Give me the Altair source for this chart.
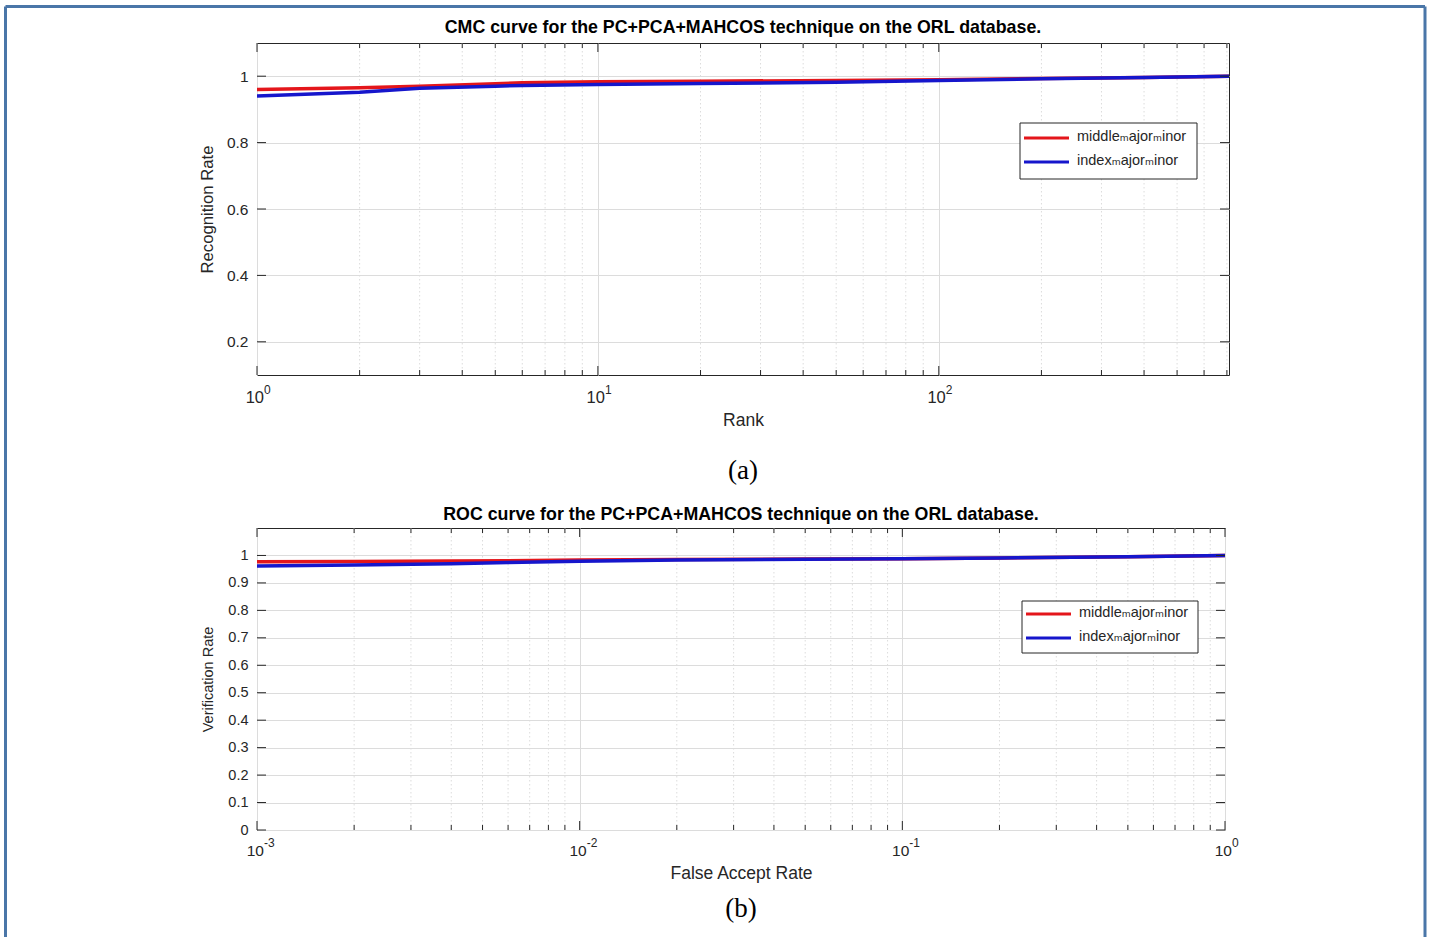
import altair as alt
import pandas as pd

# ---------------- data ----------------
cmc_rank = [1, 2, 3, 5, 6, 10, 20, 50, 100, 200, 400, 710]
cmc_middle = [0.960, 0.965, 0.970, 0.977, 0.980, 0.983, 0.985, 0.987, 0.989, 0.993, 0.996, 1.0]
cmc_index = [0.940, 0.952, 0.964, 0.970, 0.972, 0.975, 0.978, 0.982, 0.987, 0.992, 0.996, 1.0]

roc_far = [0.001, 0.002, 0.004, 0.006, 0.01, 0.02, 0.05, 0.1, 0.2, 0.5, 1.0]
roc_middle = [0.977, 0.978, 0.980, 0.981, 0.983, 0.985, 0.987, 0.988, 0.991, 0.995, 1.0]
roc_index = [0.962, 0.965, 0.970, 0.974, 0.979, 0.983, 0.986, 0.988, 0.991, 0.995, 1.0]

series_names = ["middle\u2098ajor\u2098inor", "index\u2098ajor\u2098inor"]
series_colors = ["#e4161b", "#1616cc"]

cmc_title = "CMC curve for the PC+PCA+MAHCOS technique on the ORL database."
roc_title = "ROC curve for the PC+PCA+MAHCOS technique on the ORL database."

cmc_x_major = [1, 10, 100]
cmc_x_exp = ["0", "1", "2"]
cmc_x_minor = [2, 3, 4, 5, 6, 7, 8, 9, 20, 30, 40, 50, 60, 70, 80, 90,
               200, 300, 400, 500, 600, 700]
cmc_y_ticks = [0.2, 0.4, 0.6, 0.8, 1.0]

roc_x_major = [0.001, 0.01, 0.1, 1.0]
roc_x_exp = ["-3", "-2", "-1", "0"]
roc_x_minor = [0.002, 0.003, 0.004, 0.005, 0.006, 0.007, 0.008, 0.009,
               0.02, 0.03, 0.04, 0.05, 0.06, 0.07, 0.08, 0.09,
               0.2, 0.3, 0.4, 0.5, 0.6, 0.7, 0.8, 0.9]
roc_y_ticks = [0, 0.1, 0.2, 0.3, 0.4, 0.5, 0.6, 0.7, 0.8, 0.9, 1.0]

FONT = "Liberation Sans, Arial, DejaVu Sans"
SERIF = "Liberation Serif, Times New Roman, serif"
INK = "#262626"
GRID = "#dcdcdc"


def one():
    return alt.Data(values=[{"k": 0}])


def panel(title, title_y, xs, ys_list, xdomain, ydomain, xmajor, xexp, xminor, yticks,
          W, H, xtitle, ytitle, lab_size, ten_size, leg, caption, cap_y, lab_base,
          exp_base, xtitle_pad, ytitle_pad, xt_size, yt_size):
    xscale = alt.Scale(type="log", domain=xdomain, nice=False)
    yscale = alt.Scale(domain=ydomain, nice=False, zero=False)
    xax = alt.Axis(values=xmajor, grid=True, gridColor=GRID, ticks=False,
                   labels=False, domain=False, title=xtitle,
                   titleFont=FONT, titleFontSize=xt_size, titleFontWeight="normal",
                   titleColor=INK, titlePadding=xtitle_pad)
    yax = alt.Axis(values=yticks, grid=True, gridColor=GRID, ticks=False,
                   domain=False, format="~g", labelFont=FONT,
                   labelFontSize=lab_size, labelColor=INK, labelPadding=9,
                   title=ytitle, titleFont=FONT, titleFontSize=yt_size,
                   titleFontWeight="normal", titleColor=INK,
                   titlePadding=ytitle_pad)

    def X(f):
        return alt.X(f, scale=xscale, axis=xax)

    def Y(f):
        return alt.Y(f, scale=yscale, axis=yax)

    layers = []

    # minor dotted grid
    layers.append(
        alt.Chart(pd.DataFrame({"v": xminor})).mark_rule(
            color=GRID, strokeDash=[1.5, 2.5], strokeWidth=1
        ).encode(x=X("v:Q"), y=alt.value(0), y2=alt.value(H))
    )

    # curves
    for name, color, ys in zip(series_names, series_colors, ys_list):
        df = pd.DataFrame({"x": xs, "y": ys})
        layers.append(
            alt.Chart(df).mark_line(color=color, strokeWidth=3.5, clip=True).encode(
                x=X("x:Q"), y=Y("y:Q"))
        )

    # inward ticks (bottom & top)
    for vals, ln in ((xmajor, 9), (xminor, 5)):
        d = pd.DataFrame({"v": vals})
        for y0, y1 in ((H, H - ln), (0, ln)):
            layers.append(
                alt.Chart(d).mark_rule(color=INK, strokeWidth=1).encode(
                    x=X("v:Q"), y=alt.value(y0), y2=alt.value(y1))
            )
    dy = pd.DataFrame({"v": yticks})
    for x0, x1 in ((0, 9), (W, W - 9)):
        layers.append(
            alt.Chart(dy).mark_rule(color=INK, strokeWidth=1).encode(
                y=Y("v:Q"), x=alt.value(x0), x2=alt.value(x1))
        )

    # x tick labels 10^n
    dl = pd.DataFrame({"v": xmajor, "e": xexp})
    layers.append(
        alt.Chart(dl).mark_text(align="right", dx=7, baseline="alphabetic",
                                font=FONT, fontSize=ten_size, color=INK).encode(
            x=X("v:Q"), y=alt.value(H + lab_base), text=alt.value("10"))
    )
    layers.append(
        alt.Chart(dl).mark_text(align="left", dx=7, baseline="alphabetic",
                                font=FONT, fontSize=12, color=INK).encode(
            x=X("v:Q"), y=alt.value(H + exp_base), text="e:N")
    )

    # legend
    lx, ly, lw, lh, row0, rowh = leg
    layers.append(
        alt.Chart(one()).mark_rect(fill="white", stroke=INK, strokeWidth=1).encode(
            x=alt.value(lx), x2=alt.value(lx + lw),
            y=alt.value(ly), y2=alt.value(ly + lh))
    )
    for i, (name, color) in enumerate(zip(series_names, series_colors)):
        yy = ly + row0 + i * rowh
        layers.append(
            alt.Chart(one()).mark_rule(color=color, strokeWidth=3).encode(
                x=alt.value(lx + 4), x2=alt.value(lx + 49), y=alt.value(yy))
        )
        layers.append(
            alt.Chart(one()).mark_text(align="left", baseline="middle", font=FONT,
                                       fontSize=14.5, color=INK).encode(
                x=alt.value(lx + 57), y=alt.value(yy - 1), text=alt.value(name))
        )

    # panel title
    layers.append(
        alt.Chart(one()).mark_text(align="center", baseline="middle", font=FONT,
                                   fontSize=17.8, fontWeight="bold", color="black").encode(
            x=alt.value(W / 2), y=alt.value(title_y), text=alt.value(title))
    )

    # caption
    layers.append(
        alt.Chart(one()).mark_text(align="center", baseline="middle", font=SERIF,
                                   fontSize=27, color="black").encode(
            x=alt.value(W / 2), y=alt.value(cap_y), text=alt.value(caption))
    )
    return layers


top_layers = panel(
    cmc_title, -15,
    cmc_rank, [cmc_middle, cmc_index], [1, 710], [0.1, 1.1],
    cmc_x_major, cmc_x_exp, cmc_x_minor, cmc_y_ticks,
    972, 332, "Rank", "Recognition Rate", 15.5, 16.5,
    (763, 80, 177, 56, 15, 24), "(a)", 428, 28, 19, 36, 10, 17.5, 16.7)

# page border (left, top, right)
BORDER = "#4a76a8"
top_layers.append(alt.Chart(one()).mark_rule(color=BORDER, strokeWidth=3).encode(
    x=alt.value(-251.5), y=alt.value(-36.5), y2=alt.value(894)))
top_layers.append(alt.Chart(one()).mark_rule(color=BORDER, strokeWidth=3).encode(
    x=alt.value(1168), y=alt.value(-36.5), y2=alt.value(894)))
top_layers.append(alt.Chart(one()).mark_rule(color=BORDER, strokeWidth=3).encode(
    x=alt.value(-251.5), x2=alt.value(1168), y=alt.value(-36.5)))

top = alt.layer(*top_layers).properties(width=972, height=332)

bot_layers = panel(
    roc_title, -13,
    roc_far, [roc_middle, roc_index], [0.001, 1.0], [0.0, 1.1],
    roc_x_major, roc_x_exp, roc_x_minor, roc_y_ticks,
    968, 302, "False Accept Rate", "Verification Rate", 14.5, 15.5,
    (765, 73, 176, 52, 13, 24), "(b)", 381, 26, 17, 34, 12, 17.5, 14.5)

bottom = alt.layer(*bot_layers).properties(width=968, height=302)

chart = alt.vconcat(top, bottom, spacing=153, bounds="flush").properties(
    padding={"left": 3, "top": 4, "right": 0, "bottom": 0},
    background="white",
).configure_view(stroke=INK, strokeWidth=1)

chart.save("out.html", embed_options={"renderer": "svg", "actions": False})
